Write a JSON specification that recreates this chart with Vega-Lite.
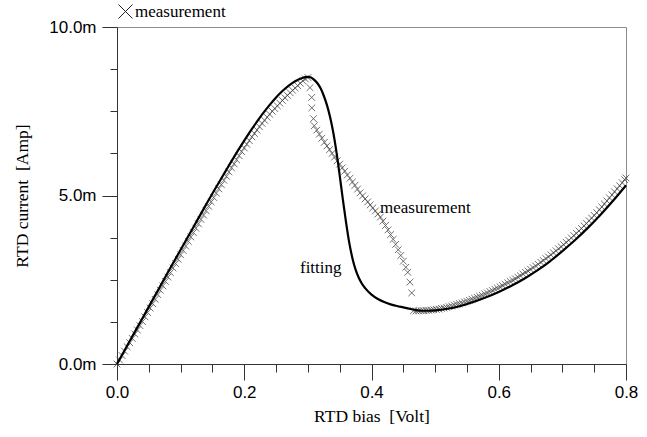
{
  "$schema": "https://vega.github.io/schema/vega-lite/v6.json",
  "width": 509,
  "height": 337,
  "autosize": {"type": "none"},
  "padding": {"left": 117, "top": 27, "right": 21, "bottom": 73},
  "background": "white",
  "config": {
    "view": {"stroke": "#8c8c8c", "strokeWidth": 1},
    "axis": {"grid": false, "domainColor": "#333", "tickColor": "#333", "labelColor": "black", "titleColor": "black", "labelFlush": false, "labelOverlap": false}
  },
  "datasets": {
    "meas": [
      {"v":0,"i":0},{"v":0.004,"i":0.12},{"v":0.008,"i":0.25},{"v":0.012,"i":0.38},{"v":0.016,"i":0.51},{"v":0.02,"i":0.63},{"v":0.024,"i":0.76},{"v":0.028,"i":0.89},{"v":0.032,"i":1.01},{"v":0.036,"i":1.14},{"v":0.04,"i":1.26},{"v":0.044,"i":1.4},{"v":0.048,"i":1.53},{"v":0.052,"i":1.66},{"v":0.056,"i":1.79},{"v":0.06,"i":1.92},{"v":0.064,"i":2.06},{"v":0.068,"i":2.19},{"v":0.072,"i":2.32},{"v":0.076,"i":2.45},{"v":0.08,"i":2.58},{"v":0.084,"i":2.71},{"v":0.088,"i":2.85},{"v":0.092,"i":2.98},{"v":0.096,"i":3.11},{"v":0.1,"i":3.24},{"v":0.104,"i":3.37},{"v":0.108,"i":3.5},{"v":0.112,"i":3.64},{"v":0.116,"i":3.77},{"v":0.12,"i":3.9},{"v":0.124,"i":4.03},{"v":0.128,"i":4.16},{"v":0.132,"i":4.29},{"v":0.136,"i":4.42},{"v":0.14,"i":4.55},{"v":0.144,"i":4.68},{"v":0.148,"i":4.81},{"v":0.152,"i":4.94},{"v":0.156,"i":5.07},{"v":0.16,"i":5.2},{"v":0.164,"i":5.32},{"v":0.168,"i":5.45},{"v":0.172,"i":5.57},{"v":0.176,"i":5.7},{"v":0.18,"i":5.82},{"v":0.184,"i":5.94},{"v":0.188,"i":6.06},{"v":0.192,"i":6.18},{"v":0.196,"i":6.3},{"v":0.2,"i":6.41},{"v":0.204,"i":6.52},{"v":0.208,"i":6.63},{"v":0.212,"i":6.74},{"v":0.216,"i":6.84},{"v":0.22,"i":6.94},{"v":0.224,"i":7.04},{"v":0.228,"i":7.14},{"v":0.232,"i":7.23},{"v":0.236,"i":7.32},{"v":0.24,"i":7.41},{"v":0.244,"i":7.5},{"v":0.248,"i":7.58},{"v":0.252,"i":7.66},{"v":0.256,"i":7.74},{"v":0.26,"i":7.82},{"v":0.264,"i":7.9},{"v":0.268,"i":7.97},{"v":0.272,"i":8.05},{"v":0.276,"i":8.12},{"v":0.28,"i":8.19},{"v":0.284,"i":8.26},{"v":0.288,"i":8.33},{"v":0.292,"i":8.4},{"v":0.296,"i":8.46},{"v":0.3,"i":8.5},
      {"v":0.3033,"i":8.2},{"v":0.306,"i":7.91},{"v":0.3062,"i":7.6},{"v":0.3088,"i":7.28},
      {"v":0.31,"i":7.07},{"v":0.314,"i":6.94},{"v":0.318,"i":6.82},{"v":0.322,"i":6.7},{"v":0.326,"i":6.58},{"v":0.33,"i":6.47},{"v":0.334,"i":6.36},{"v":0.338,"i":6.25},{"v":0.342,"i":6.14},{"v":0.346,"i":6.03},{"v":0.35,"i":5.93},{"v":0.354,"i":5.82},{"v":0.358,"i":5.72},{"v":0.362,"i":5.61},{"v":0.366,"i":5.51},{"v":0.37,"i":5.4},{"v":0.374,"i":5.3},{"v":0.378,"i":5.19},{"v":0.382,"i":5.08},{"v":0.386,"i":4.99},{"v":0.39,"i":4.9},{"v":0.394,"i":4.81},{"v":0.398,"i":4.72},{"v":0.402,"i":4.63},{"v":0.406,"i":4.54},{"v":0.41,"i":4.45},{"v":0.414,"i":4.36},{"v":0.418,"i":4.24},{"v":0.422,"i":4.11},{"v":0.426,"i":3.98},{"v":0.43,"i":3.84},{"v":0.434,"i":3.7},{"v":0.438,"i":3.55},{"v":0.442,"i":3.39},{"v":0.446,"i":3.22},{"v":0.45,"i":3.05},{"v":0.454,"i":2.87},{"v":0.457,"i":2.72},
      {"v":0.4605,"i":2.43},{"v":0.4632,"i":2.11},
      {"v":0.466,"i":1.58},{"v":0.47,"i":1.575},{"v":0.474,"i":1.575},{"v":0.478,"i":1.58},{"v":0.482,"i":1.58},{"v":0.486,"i":1.59},{"v":0.49,"i":1.59},{"v":0.494,"i":1.6},{"v":0.498,"i":1.61},{"v":0.502,"i":1.62},{"v":0.506,"i":1.63},{"v":0.51,"i":1.65},{"v":0.514,"i":1.66},{"v":0.518,"i":1.68},{"v":0.522,"i":1.7},{"v":0.526,"i":1.72},{"v":0.53,"i":1.75},{"v":0.534,"i":1.77},{"v":0.538,"i":1.79},{"v":0.542,"i":1.81},{"v":0.546,"i":1.84},{"v":0.55,"i":1.86},{"v":0.554,"i":1.89},{"v":0.558,"i":1.92},{"v":0.562,"i":1.95},{"v":0.566,"i":1.98},{"v":0.57,"i":2.01},{"v":0.574,"i":2.04},{"v":0.578,"i":2.08},{"v":0.582,"i":2.11},{"v":0.586,"i":2.15},{"v":0.59,"i":2.18},{"v":0.594,"i":2.22},{"v":0.598,"i":2.25},{"v":0.602,"i":2.29},{"v":0.606,"i":2.33},{"v":0.61,"i":2.37},{"v":0.614,"i":2.41},{"v":0.618,"i":2.45},{"v":0.622,"i":2.49},{"v":0.626,"i":2.53},{"v":0.63,"i":2.58},{"v":0.634,"i":2.62},{"v":0.638,"i":2.67},{"v":0.642,"i":2.72},{"v":0.646,"i":2.76},{"v":0.65,"i":2.81},{"v":0.654,"i":2.86},{"v":0.658,"i":2.91},{"v":0.662,"i":2.96},{"v":0.666,"i":3.02},{"v":0.67,"i":3.07},{"v":0.674,"i":3.13},{"v":0.678,"i":3.18},{"v":0.682,"i":3.24},{"v":0.686,"i":3.3},{"v":0.69,"i":3.36},{"v":0.694,"i":3.42},{"v":0.698,"i":3.48},{"v":0.702,"i":3.54},{"v":0.706,"i":3.61},{"v":0.71,"i":3.67},{"v":0.714,"i":3.74},{"v":0.718,"i":3.81},{"v":0.722,"i":3.88},{"v":0.726,"i":3.95},{"v":0.73,"i":4.02},{"v":0.734,"i":4.1},{"v":0.738,"i":4.17},{"v":0.742,"i":4.25},{"v":0.746,"i":4.33},{"v":0.75,"i":4.41},{"v":0.754,"i":4.49},{"v":0.758,"i":4.58},{"v":0.762,"i":4.66},{"v":0.766,"i":4.75},{"v":0.77,"i":4.84},{"v":0.774,"i":4.93},{"v":0.778,"i":5.02},{"v":0.782,"i":5.11},{"v":0.786,"i":5.2},{"v":0.79,"i":5.29},{"v":0.794,"i":5.38},{"v":0.798,"i":5.47},{"v":0.8,"i":5.52}
    ],
    "fit": [
      {"v":0,"i":0},{"v":0.02,"i":0.68},{"v":0.04,"i":1.36},{"v":0.06,"i":2.04},{"v":0.08,"i":2.72},{"v":0.1,"i":3.39},{"v":0.12,"i":4.06},{"v":0.14,"i":4.73},{"v":0.15,"i":5.06},{"v":0.16,"i":5.38},{"v":0.17,"i":5.7},{"v":0.18,"i":6.02},{"v":0.19,"i":6.33},{"v":0.2,"i":6.63},{"v":0.21,"i":6.92},{"v":0.22,"i":7.19},{"v":0.23,"i":7.45},{"v":0.24,"i":7.69},{"v":0.25,"i":7.91},{"v":0.26,"i":8.1},{"v":0.27,"i":8.26},{"v":0.28,"i":8.39},{"v":0.29,"i":8.48},{"v":0.3,"i":8.52},
      {"v":0.305,"i":8.5},{"v":0.31,"i":8.43},{"v":0.315,"i":8.33},{"v":0.32,"i":8.18},{"v":0.325,"i":7.96},{"v":0.33,"i":7.68},{"v":0.335,"i":7.32},{"v":0.34,"i":6.86},{"v":0.345,"i":6.28},{"v":0.35,"i":5.6},{"v":0.355,"i":4.88},{"v":0.36,"i":4.2},{"v":0.365,"i":3.6},{"v":0.37,"i":3.14},{"v":0.375,"i":2.8},{"v":0.38,"i":2.56},{"v":0.385,"i":2.38},{"v":0.39,"i":2.25},{"v":0.4,"i":2.06},{"v":0.41,"i":1.93},{"v":0.42,"i":1.84},{"v":0.43,"i":1.77},{"v":0.44,"i":1.72},{"v":0.45,"i":1.68},{"v":0.46,"i":1.64},
      {"v":0.47,"i":1.6},{"v":0.48,"i":1.58},{"v":0.49,"i":1.58},{"v":0.5,"i":1.59},{"v":0.52,"i":1.64},{"v":0.54,"i":1.72},{"v":0.56,"i":1.84},{"v":0.58,"i":1.98},{"v":0.6,"i":2.14},{"v":0.62,"i":2.32},{"v":0.64,"i":2.53},{"v":0.66,"i":2.77},{"v":0.68,"i":3.04},{"v":0.7,"i":3.35},{"v":0.72,"i":3.68},{"v":0.74,"i":4.04},{"v":0.76,"i":4.43},{"v":0.78,"i":4.85},{"v":0.8,"i":5.3}
    ],
    "notes": [
      {"v":0.4134,"i":4.64,"t":"measurement"},
      {"v":0.2876,"i":2.86,"t":"fitting"}
    ]
  },
  "resolve": {"axis": {"x": "independent", "y": "independent"}},
  "layer": [
    {
      "data": {"name": "meas"},
      "mark": {"type": "point", "filled": false, "stroke": "#4a4a4a", "strokeWidth": 0.8, "size": 45, "opacity": 1},
      "encoding": {
        "x": {"field": "v", "type": "quantitative", "scale": {"domain": [0, 0.8], "nice": false, "zero": false},
              "axis": {"orient": "bottom", "values": [0.05,0.1,0.15,0.25,0.3,0.35,0.45,0.5,0.55,0.65,0.7,0.75], "labels": false, "domain": false, "tickSize": 8, "title": null}},
        "y": {"field": "i", "type": "quantitative", "scale": {"domain": [0, 10], "nice": false, "zero": false},
              "axis": {"orient": "left", "values": [1.25,2.5,3.75,6.25,7.5,8.75], "labels": false, "domain": false, "tickSize": 7, "title": null}},
        "shape": {"datum": "measurement", "type": "nominal",
                  "scale": {"domain": ["measurement"], "range": ["M-1,-1L1,1M-1,1L1,-1"]},
                  "legend": {"orient": "none", "legendX": 0, "legendY": -24, "title": null, "padding": 0,
                             "labelFont": "Liberation Serif", "labelFontSize": 17, "labelColor": "black", "labelOffset": 1,
                             "symbolSize": 196, "symbolStrokeWidth": 1, "symbolStrokeColor": "#222", "symbolFillColor": "transparent"}}
      }
    },
    {
      "data": {"name": "fit"},
      "mark": {"type": "line", "color": "black", "strokeWidth": 2.2, "interpolate": "monotone"},
      "encoding": {
        "x": {"field": "v", "type": "quantitative", "scale": {"domain": [0, 0.8], "nice": false, "zero": false},
              "axis": {"orient": "bottom", "values": [0, 0.2, 0.4, 0.6, 0.8], "format": ".1f", "tickSize": 16, "labelPadding": 4,
                       "labelFont": "Liberation Sans", "labelFontSize": 17, "title": "RTD bias\u00a0 [Volt]",
                       "titleFont": "Liberation Serif", "titleFontSize": 17.5, "titleFontWeight": "normal", "titlePadding": 7}},
        "y": {"field": "i", "type": "quantitative", "scale": {"domain": [0, 10], "nice": false, "zero": false},
              "axis": {"orient": "left", "values": [0, 5, 10], "labelExpr": "format(datum.value, '.1f') + 'm'", "tickSize": 15, "labelPadding": 6,
                       "labelFont": "Liberation Sans", "labelFontSize": 17, "title": "RTD current\u00a0 [Amp]",
                       "titleFont": "Liberation Serif", "titleFontSize": 17.5, "titleFontWeight": "normal", "titlePadding": 17}}
      }
    },
    {
      "data": {"name": "notes"},
      "mark": {"type": "text", "align": "left", "baseline": "middle", "font": "Liberation Serif", "fontSize": 17, "color": "black"},
      "encoding": {
        "x": {"field": "v", "type": "quantitative", "scale": {"domain": [0, 0.8], "nice": false, "zero": false}, "axis": null},
        "y": {"field": "i", "type": "quantitative", "scale": {"domain": [0, 10], "nice": false, "zero": false}, "axis": null},
        "text": {"field": "t"}
      }
    }
  ]
}
